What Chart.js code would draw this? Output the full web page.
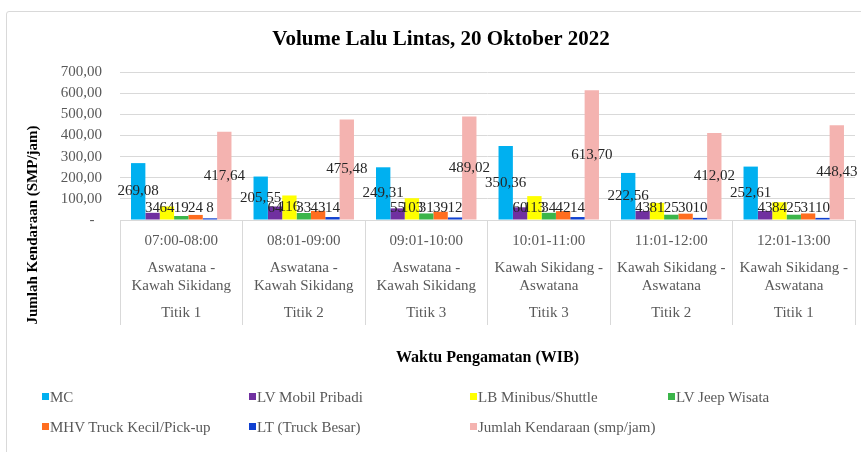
<!DOCTYPE html>
<html>
<head>
<meta charset="utf-8">
<script src="https://cdn.jsdelivr.net/npm/chart.js"></script>
<style>
    html, body { margin: 0; padding: 0; background: #fff; overflow: hidden; }
    #frame { position: absolute; left: 6px; top: 11px; width: 900px; height: 500px; border: 1px solid #d9d9d9; border-radius: 3px; }
    #wrap { position: absolute; left: 0; top: 0; width: 882px; height: 452px; }
    #legend { position: absolute; left: 0; top: 0; font-family: "Liberation Serif", "Times New Roman", serif; font-size: 15px; color: #595959; }
    #legend .item { position: absolute; white-space: nowrap; height: 18px; line-height: 18px; }
    #legend .item i { position: absolute; left: 0; top: 5px; width: 7px; height: 7px; }
    #legend .item span { position: absolute; left: 8px; top: 0; }
</style>
</head>
<body>
<div id="frame"></div>
<div id="wrap"><canvas id="trafficChart" width="882" height="452"></canvas></div>
<div id="legend"></div>
<script>
    // categories (three label levels)
    var timeLabels = ['07:00-08:00', '08:01-09:00', '09:01-10:00', '10:01-11:00', '11:01-12:00', '12:01-13:00'];
    var routeLine1 = ['Aswatana -', 'Aswatana -', 'Aswatana -', 'Kawah Sikidang -', 'Kawah Sikidang -', 'Kawah Sikidang -'];
    var routeLine2 = ['Kawah Sikidang', 'Kawah Sikidang', 'Kawah Sikidang', 'Aswatana', 'Aswatana', 'Aswatana'];
    var titikLabels = ['Titik 1', 'Titik 2', 'Titik 3', 'Titik 3', 'Titik 2', 'Titik 1'];

    // series values (smp/jam)
    var mcValues = [269.08, 205.55, 249.31, 350.36, 222.56, 252.61];
    var lvPribadiValues = [34, 64, 55, 60, 43, 43];
    var lbMinibusValues = [64, 116, 103, 113, 81, 84];
    var lvJeepValues = [19, 33, 31, 34, 25, 25];
    var mhvTruckValues = [24, 43, 39, 42, 30, 31];
    var ltTruckValues = [8, 14, 12, 14, 10, 10];
    var totalValues = [417.64, 475.48, 489.02, 613.70, 412.02, 448.43];

    var seriesNames = ['MC', 'LV Mobil Pribadi', 'LB Minibus/Shuttle', 'LV Jeep Wisata',
        'MHV Truck Kecil/Pick-up', 'LT (Truck Besar)', 'Jumlah Kendaraan (smp/jam)'];
    var seriesValues = [mcValues, lvPribadiValues, lbMinibusValues, lvJeepValues, mhvTruckValues, ltTruckValues, totalValues];
    var seriesColors = ['#00b0f0', '#7030a0', '#ffff00', '#3bb54a', '#ff6d1f', '#1040d0', '#f4b3b0'];

    // y tick labels
    var yTickValues = [0, 100, 200, 300, 400, 500, 600, 700];
    var yTickLabels = ['-', '100,00', '200,00', '300,00', '400,00', '500,00', '600,00', '700,00'];

    var SERIF = '"Liberation Serif", "Times New Roman", serif';

    var formatValue = function (v) {
        if (Number.isInteger(v)) {
            return String(v);
        }
        return v.toFixed(2).replace('.', ',');
    };

    var labels = [];
    for (var i = 0; i < timeLabels.length; i++) {
        labels.push([timeLabels[i], '', '', routeLine1[i], '', routeLine2[i], '', '', titikLabels[i]]);
    }

    var datasets = [];
    for (var s = 0; s < seriesNames.length; s++) {
        datasets.push({
            label: seriesNames[s],
            data: seriesValues[s],
            backgroundColor: seriesColors[s],
            borderWidth: 0,
            categoryPercentage: 0.82,
            barPercentage: 1.0
        });
    }

    // value labels centred in each bar, kept above the axis for short bars
    var barLabelPlugin = {
        id: 'barLabels',
        afterDatasetsDraw: function (chart) {
            var ctx = chart.ctx;
            ctx.save();
            ctx.font = '15px ' + SERIF;
            ctx.fillStyle = '#262626';
            ctx.textAlign = 'center';
            ctx.textBaseline = 'middle';
            chart.data.datasets.forEach(function (ds, di) {
                var meta = chart.getDatasetMeta(di);
                meta.data.forEach(function (bar, idx) {
                    var y = Math.min((bar.y + bar.base) / 2, bar.base - 11);
                    ctx.fillText(formatValue(ds.data[idx]), bar.x, y);
                });
            });
            ctx.restore();
        }
    };

    // y axis title centred over plot + category block
    var yTitlePlugin = {
        id: 'yTitle',
        afterDraw: function (chart) {
            var ctx = chart.ctx;
            ctx.save();
            ctx.translate(33, 225);
            ctx.rotate(-Math.PI / 2);
            ctx.font = 'bold 15px ' + SERIF;
            ctx.fillStyle = '#000';
            ctx.textAlign = 'center';
            ctx.textBaseline = 'middle';
            ctx.fillText('Jumlah Kendaraan (SMP/jam)', 0, 0);
            ctx.restore();
        }
    };

    var chart = new Chart(document.getElementById('trafficChart'), {
        type: 'bar',
        data: { labels: labels, datasets: datasets },
        plugins: [barLabelPlugin, yTitlePlugin],
        options: {
            responsive: false,
            animation: false,
            devicePixelRatio: 1,
            layout: { padding: { top: 0, left: 0, right: 0, bottom: 80.4 } },
            plugins: {
                legend: { display: false },
                tooltip: { enabled: false },
                title: {
                    display: true,
                    text: 'Volume Lalu Lintas, 20 Oktober 2022',
                    color: '#000',
                    font: { family: SERIF, size: 21, weight: 'bold' },
                    padding: { top: 27.4, bottom: 19.4 }
                }
            },
            scales: {
                x: {
                    grid: {
                        offset: true,
                        drawOnChartArea: false,
                        drawTicks: true,
                        tickLength: 105,
                        color: '#d9d9d9'
                    },
                    border: { display: true, color: '#d9d9d9' },
                    ticks: {
                        autoSkip: false,
                        maxRotation: 0,
                        minRotation: 0,
                        padding: -88.5,
                        color: '#595959',
                        font: { family: SERIF, size: 15, lineHeight: 0.6 }
                    },
                    title: {
                        display: true,
                        text: 'Waktu Pengamatan (WIB)',
                        color: '#000',
                        font: { family: SERIF, size: 16, weight: 'bold' },
                        padding: { top: 0, bottom: 4 }
                    },
                    afterFit: function (scale) { scale.height = 151.6; }
                },
                y: {
                    min: 0,
                    max: 700,
                    grid: { color: '#d9d9d9', drawTicks: false },
                    border: { display: false },
                    afterBuildTicks: function (scale) {
                        scale.ticks = yTickValues.map(function (v) { return { value: v }; });
                    },
                    ticks: {
                        padding: 18,
                        color: '#595959',
                        font: { family: SERIF, size: 15 },
                        callback: function (value) {
                            var k = yTickValues.indexOf(value);
                            var t = k >= 0 ? yTickLabels[k] : '';
                            return value === 0 ? t + '  ' : t;
                        }
                    },
                    afterFit: function (scale) { scale.width = 120; }
                },
                spacer: {
                    position: 'right',
                    grid: { display: false },
                    border: { display: false },
                    ticks: { display: false },
                    afterFit: function (scale) { scale.width = 27; }
                }
            }
        }
    });

    // legend laid out in Excel-like columns
    var legendCols = [42, 249, 470, 668];
    var legendRows = [397, 427];
    var legendEl = document.getElementById('legend');
    chart.data.datasets.forEach(function (ds, k) {
        var item = document.createElement('div');
        item.className = 'item';
        item.style.left = legendCols[k % 4] + 'px';
        item.style.top = (legendRows[Math.floor(k / 4)] - 9) + 'px';
        var box = document.createElement('i');
        box.style.background = ds.backgroundColor;
        var txt = document.createElement('span');
        txt.textContent = ds.label;
        item.appendChild(box);
        item.appendChild(txt);
        legendEl.appendChild(item);
    });
</script>
</body>
</html>
